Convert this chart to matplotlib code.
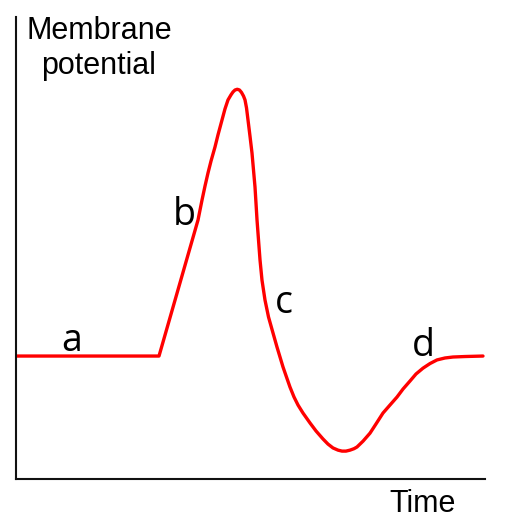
import matplotlib
matplotlib.use('Agg')
import matplotlib.pyplot as plt

# Action potential trace (time in ms, potential in mV)
time_ms = [0.000, 3.049, 3.881, 3.966, 4.030, 4.094, 4.158, 4.243, 4.307, 4.392,
           4.456, 4.520, 4.584, 4.627, 4.670, 4.718, 4.765, 4.808, 4.851, 4.883,
           4.915, 4.947, 4.989, 5.032, 5.064, 5.096, 5.117, 5.139, 5.171, 5.203,
           5.245, 5.309, 5.384, 5.480, 5.565, 5.629, 5.693, 5.768, 5.842, 5.928,
           6.013, 6.119, 6.269, 6.397, 6.546, 6.652, 6.759, 6.866, 6.951, 7.036,
           7.122, 7.207, 7.271, 7.399, 7.548, 7.676, 7.825, 7.974, 8.124, 8.252,
           8.401, 8.529, 8.678, 8.827, 8.977, 9.147, 9.318, 9.574, 9.957]
potential_mv = [-70.0, -70.0, -13.9, -5.7, 0.1, 5.5, 10.4, 16.2, 21.2, 27.3,
                31.9, 35.6, 37.7, 38.9, 39.7, 40.0, 39.7, 38.7, 37.2, 35.6,
                32.3, 27.3, 20.7, 13.7, 6.7, -0.3, -6.9, -13.9, -22.2, -30.4,
                -38.7, -46.9, -53.9, -60.5, -66.3, -70.4, -74.5, -78.7, -82.8, -86.9,
                -90.2, -93.5, -97.6, -100.9, -104.2, -106.3, -107.9, -108.8, -109.2, -109.2,
                -108.8, -108.2, -107.5, -105.1, -101.8, -98.0, -93.5, -90.2, -86.9, -83.6,
                -80.3, -77.4, -75.0, -73.1, -71.6, -70.8, -70.4, -70.2, -70.0]

# phase labels and where they sit
phase_labels = ['a', 'b', 'c', 'd']
phase_x = [1.19, 3.58, 5.72, 8.68]
phase_y = [-67.9, -16.0, -52.3, -70.0]

fig = plt.figure(figsize=(5.28, 5.22), dpi=100)
ax = fig.add_axes([16 / 528, 43 / 522, 469 / 528, 462 / 522])

ax.plot(time_ms, potential_mv, color='#ff0000', linewidth=2.4,
        solid_joinstyle='round', solid_capstyle='round')

for lab, x, y in zip(phase_labels, phase_x, phase_y):
    ax.text(x, y, lab, fontsize=27, family='Open Sans', ha='center', va='baseline')

ax.set_xlim(0, 10)
ax.set_ylim(-120.7, 69.8)
ax.set_xticks([])
ax.set_yticks([])
for side in ['top', 'right']:
    ax.spines[side].set_visible(False)
for side in ['left', 'bottom']:
    ax.spines[side].set_linewidth(1.5)
    ax.spines[side].set_color('#111111')

fig.text(99 / 528, 1 - 16 / 522, 'Membrane\npotential', fontsize=22, family='Liberation Sans',
         ha='center', va='top', multialignment='center', linespacing=1.2)
fig.text(422.5 / 528, 1 - 512 / 522, 'Time', fontsize=22, family='Liberation Sans',
         ha='center', va='baseline')

fig.savefig('out.png', dpi=100)
